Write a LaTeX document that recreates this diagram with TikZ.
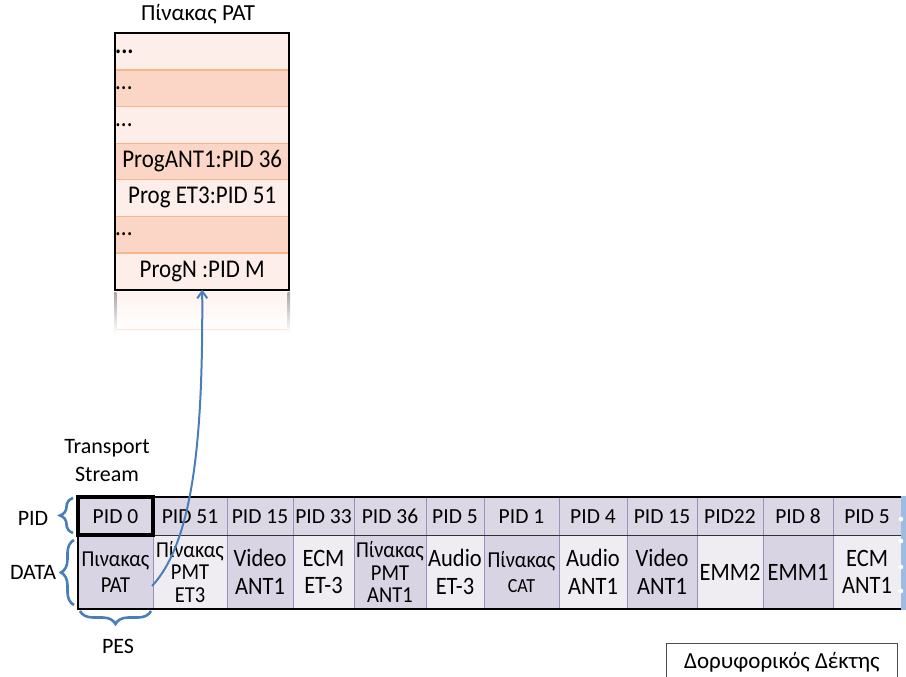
\documentclass[tikz,border=0pt]{standalone}
\usepackage{fontspec}
\setmainfont{Carlito}
\newfontfamily\tallfont{Carlito}[FakeStretch=0.9]
\usetikzlibrary{decorations.pathreplacing,arrows.meta}
\definecolor{patlight}{HTML}{FDEEE9}
\definecolor{patdark}{HTML}{FBD5C5}
\definecolor{patline}{HTML}{F7B68A}
\definecolor{pidfill}{HTML}{DCD7E5}
\definecolor{ddark}{HTML}{D9D4E3}
\definecolor{dlight}{HTML}{EFEDF2}
\definecolor{divline}{HTML}{9F8DC0}
\definecolor{bracecol}{HTML}{4A7EBB}
\definecolor{stripcol}{HTML}{9DBBE3}
\begin{document}
\begin{tikzpicture}[x=1pt,y=-1pt,
  patrow/.style={rectangle, inner sep=0pt, minimum width=174pt, minimum height=36.6pt, anchor=north west, font=\tallfont\fontsize{25.5}{29}\selectfont},
  pidcell/.style={rectangle, inner sep=0pt, minimum height=38pt, text height=14pt, text depth=0pt, fill=pidfill, font=\fontsize{21.5}{24}\selectfont},
  datacell/.style={rectangle, inner sep=0pt, minimum height=74pt, align=center, font=\tallfont\fontsize{25}{27.5}\selectfont},
  greekcell/.style={datacell, font=\tallfont\fontsize{22.8}{25.5}\selectfont},
  smallcell/.style={datacell, font=\tallfont\fontsize{22.8}{22.5}\selectfont},
  lbl/.style={font=\fontsize{22}{28}\selectfont, align=center, inner sep=0pt},
  bracestyle/.style={draw=bracecol, line width=2.6pt, decorate, decoration={brace, amplitude=13pt}},
]
\useasboundingbox (0,0) rectangle (906,677);

% ---------- PAT table ----------
\node[lbl, font=\fontsize{23}{27}\selectfont] (title) at (198,14) {Πίνακας PAT};
\node[patrow, fill=patlight] (r1) at (115,33) {};
\node[patrow, fill=patdark]  (r2) at (115,69.6) {};
\node[patrow, fill=patlight] (r3) at (115,106.2) {};
\node[patrow, fill=patdark]  (r4) at (115,142.8) {ProgANT1:PID 36};
\node[patrow, fill=patlight] (r5) at (115,179.4) {Prog ET3:PID 51};
\node[patrow, fill=patdark]  (r6) at (115,216) {};
\node[patrow, fill=patlight] (r7) at (115,252.6) {ProgN :PID M};
\node[anchor=west, inner sep=0pt, font=\tallfont\fontsize{25.5}{29}\bfseries\selectfont] (e1) at (r1.west) {...};
\node[anchor=west, inner sep=0pt, font=\tallfont\fontsize{25.5}{29}\selectfont] (e2) at (r2.west) {...};
\node[anchor=west, inner sep=0pt, font=\tallfont\fontsize{25.5}{29}\selectfont] (e3) at (r3.west) {...};
\node[anchor=west, inner sep=0pt, font=\tallfont\fontsize{25.5}{29}\selectfont] (e6) at (r6.west) {...};
\foreach \a in {r1,r2,r3,r4,r5,r6}{
  \draw[patline, line width=1.2pt] (\a.south west) -- (\a.south east);
}
\draw[black, line width=2pt] (r1.north west) rectangle (r7.south east);
% faded reflection below the table
\shade[top color=patlight!70, bottom color=white] (116,292) rectangle (288,333);
\shade[top color=gray!70, bottom color=white] (114,292) rectangle (116.5,333);
\shade[top color=gray!70, bottom color=white] (287.5,292) rectangle (290,333);
\draw[patline!35, line width=1pt] (117,329) -- (287,329);

% ---------- Transport stream ----------
\node[lbl] (ts) at (107,461) {Transport\\Stream};
\foreach \i/\xa/\xb/\t in {1/78/153/PID 0, 2/153/227/PID 51, 3/227/293/PID 15, 4/293/354/PID 33,
  5/354/426/PID 36, 6/426/484/PID 5, 7/484/559/PID 1, 8/559/627/PID 4, 9/627/697/PID 15,
  10/697/763/PID22, 11/763/833/PID 8, 12/833/901/PID 5}{
  \node[pidcell, minimum width={\xb-\xa}] (p\i) at ({(\xa+\xb)/2},516) {\t};
}
\node[greekcell, fill=ddark,  minimum width=75] (d1) at (115.5,572) {Πινακας\\PAT};
\node[smallcell, fill=dlight, minimum width=74] (d2) at (190,572) {Πίνακας\\PMT\\ET3};
\node[datacell, fill=ddark,  minimum width=66] (d3) at (260,572) {Video\\ANT1};
\node[datacell, fill=dlight, minimum width=61] (d4) at (323.5,572) {ECM\\ET-3};
\node[smallcell, fill=ddark, minimum width=72] (d5) at (390,572) {Πίνακας\\PMT\\ANT1};
\node[datacell, fill=dlight, minimum width=58] (d6) at (455,572) {Audio\\ET-3};
\node[greekcell, fill=ddark,  minimum width=75] (d7) at (521.5,572) {Πίνακας\\{\fontsize{20}{22}\selectfont CAT}};
\node[datacell, fill=dlight, minimum width=68] (d8) at (593,572) {Audio\\ANT1};
\node[datacell, fill=ddark,  minimum width=70] (d9) at (662,572) {Video\\ANT1};
\node[datacell, fill=dlight, minimum width=66] (d10) at (730,572) {EMM2};
\node[datacell, fill=ddark,  minimum width=70] (d11) at (798,572) {EMM1};
\node[datacell, fill=dlight, minimum width=68] (d12) at (867,572) {ECM\\ANT1};
% dividers
\foreach \x in {227,293,354,426,484,559,627,697,763,833}{
  \draw[divline, line width=0.8pt] (\x,498) -- (\x,608);
}
\draw[divline, line width=0.8pt] (153,535) -- (153,608);
\draw[black!80, line width=1pt] (78,535) -- (901,535);
\draw[black, line width=2pt] (78,497) -- (901,497);
\draw[black, line width=2pt] (78,609) -- (901,609);
\draw[black, line width=2pt] (78,535) -- (78,610);
\draw[black, line width=4pt] (p1.north west) rectangle (p1.south east);
% torn right edge
\fill[stripcol] (901,496) rectangle (906,610);
\foreach \y in {519,541,567,591}{ \fill[white] (901,\y) circle (2.3); }

% ---------- labels and braces ----------
\node[lbl] (lpid) at (33,518) {PID};
\node[lbl] (ldata) at (33,572) {DATA};
\node[lbl] (lpes) at (118,646) {PES};
\draw[bracestyle] (73,533) -- (73,498);
\draw[bracestyle] (74,605) -- (74,540);
\draw[bracestyle] (151,611) -- (80,611);

% ---------- arrow ----------
\coordinate (a0) at (152,586);
\draw[bracecol, line width=2pt, -{Straight Barb[length=7pt,width=10pt]}] (a0) .. controls (195,540) and (203,430) .. (r7.south);

% ---------- receiver box ----------
\node[draw=black!70, line width=0.8pt, anchor=north west, minimum width=231pt, minimum height=37pt, inner sep=0pt, font=\fontsize{23}{26}\selectfont] (rx) at (666,643) {Δορυφορικός Δέκτης};
\end{tikzpicture}
\end{document}
